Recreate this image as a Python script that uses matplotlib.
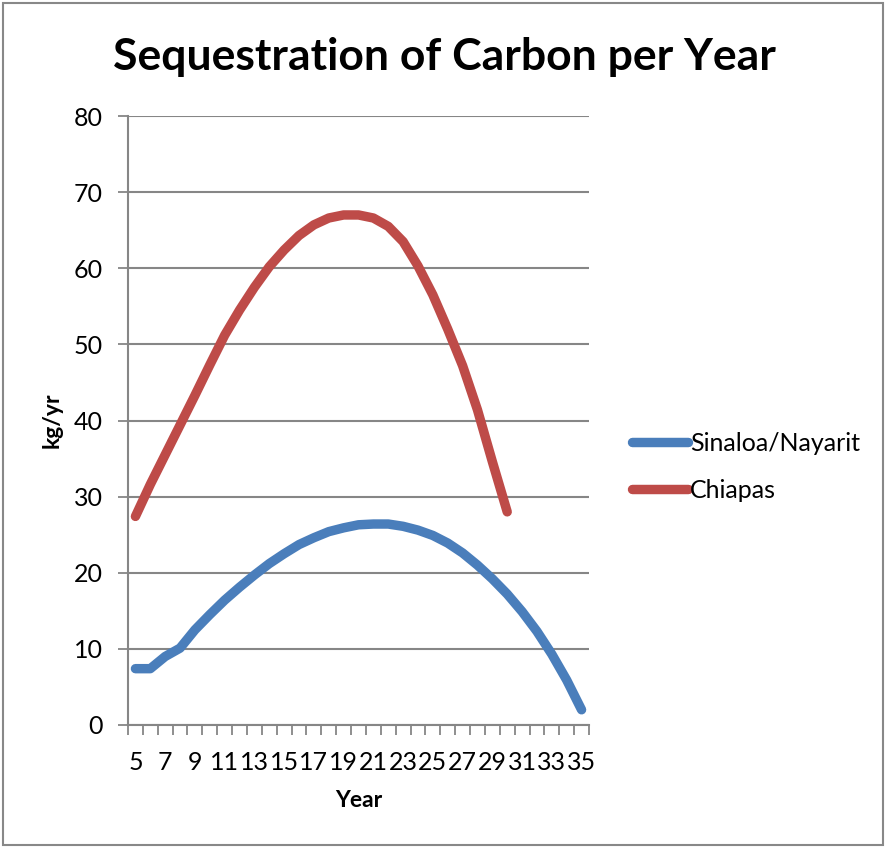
import matplotlib
matplotlib.use("Agg")
import matplotlib.pyplot as plt
from matplotlib.patches import Rectangle

plt.rcParams['font.family'] = ['Lato', 'DejaVu Sans']

years = list(range(5, 36))
sinaloa = [7.4, 7.4, 9.0, 10.1, 12.5, 14.5, 16.4, 18.1, 19.7, 21.2, 22.5, 23.7,
           24.6, 25.4, 25.9, 26.3, 26.4, 26.4, 26.1, 25.6, 24.9, 23.9, 22.6,
           21.0, 19.2, 17.2, 14.9, 12.3, 9.3, 5.9, 2.0]
chiapas_years = list(range(5, 31))
chiapas = [27.4, 31.6, 35.5, 39.4, 43.3, 47.3, 51.2, 54.5, 57.5, 60.2, 62.4,
           64.3, 65.7, 66.6, 67.0, 67.0, 66.6, 65.5, 63.5, 60.3, 56.5, 52.0,
           47.2, 41.4, 34.6, 28.0]
yticks = [0, 10, 20, 30, 40, 50, 60, 70, 80]
xlabel_years = list(range(5, 36, 2))

blue = '#4A7EBB'
red = '#BE4B48'
grid = '#868686'

fig = plt.figure(figsize=(8.86, 8.48), dpi=100)
ax = fig.add_axes([128/886, 1-725/848, (589-128)/886, (725-116)/848])

xs_s = [years.index(y) for y in years]
xs_c = [years.index(y) for y in chiapas_years]
ax.plot(xs_s, sinaloa, color=blue, lw=6.8, solid_capstyle='round',
        solid_joinstyle='round', label='Sinaloa/Nayarit', zorder=3)
ax.plot(xs_c, chiapas, color=red, lw=6.8, solid_capstyle='round',
        solid_joinstyle='round', label='Chiapas', zorder=3)

ax.set_xlim(-0.5, len(years) - 0.5)
ax.set_ylim(0, 80)
ax.set_yticks(yticks)
ax.set_yticklabels([str(v) for v in yticks], fontsize=18)
ax.yaxis.grid(True, color=grid, lw=1.5)
ax.set_axisbelow(True)

# category boundaries as tick marks, labels at centers
ax.set_xticks([i - 0.5 for i in range(len(years) + 1)])
ax.set_xticklabels([])
ax.set_xticks([years.index(y) for y in xlabel_years], minor=True)
ax.set_xticklabels([str(y) for y in xlabel_years], minor=True, fontsize=18)
ax.tick_params(axis='x', which='major', length=7, color=grid, width=1.3, direction='out')
ax.tick_params(axis='x', which='minor', length=0, pad=19)
ax.tick_params(axis='y', length=7, color=grid, width=1.3, pad=11)

for s in ['top', 'right']:
    ax.spines[s].set_visible(False)
for s in ['left', 'bottom']:
    ax.spines[s].set_color(grid)
    ax.spines[s].set_linewidth(1.5)

ax.set_xlabel('Year', fontsize=16.5, fontweight='bold', labelpad=11)
ax.set_ylabel('kg/yr', fontsize=16.5, fontweight='bold', labelpad=8)

fig.text(444/886, 1-57/848, 'Sequestration of Carbon per Year', ha='center',
         va='center', fontsize=32, fontweight='bold')

fig.legend(loc='center left', bbox_to_anchor=(632/886, 1-467/848), frameon=False,
           borderpad=0, borderaxespad=0, fontsize=18, handlelength=2.25,
           handletextpad=0.08, labelspacing=0.95)

fig.patches.append(Rectangle((3/886, 3/848), 880/886, 842/848, transform=fig.transFigure,
                             fill=False, edgecolor='#888888', lw=1.5))

fig.savefig('out.png', dpi=100)
